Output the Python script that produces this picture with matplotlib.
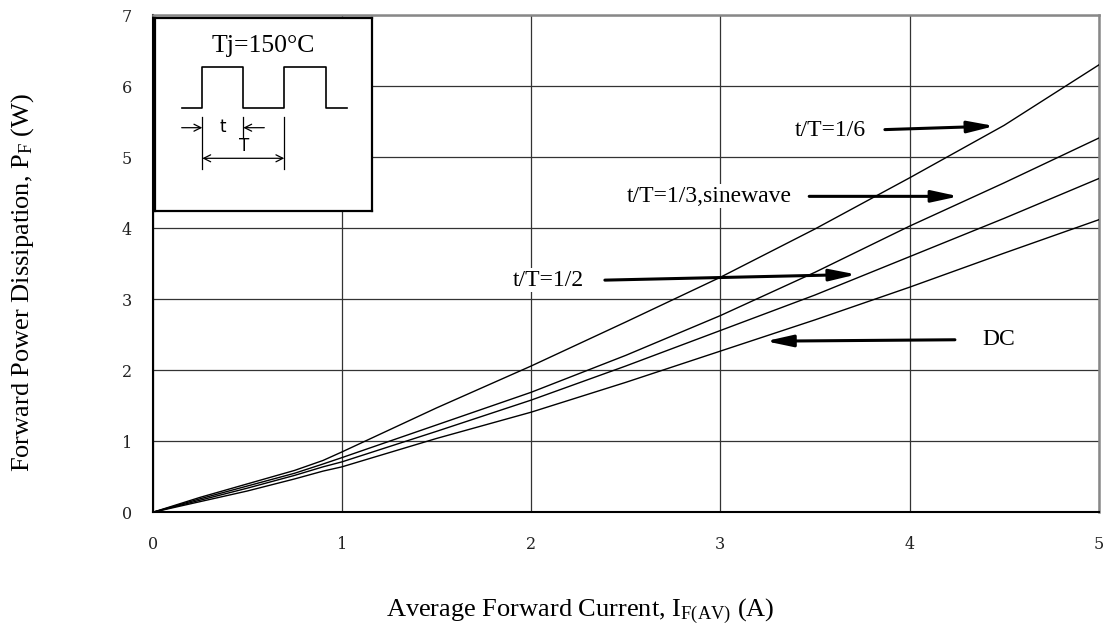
import numpy as np
import matplotlib
matplotlib.use('Agg')
import matplotlib.pyplot as plt

plt.rcParams['font.family'] = ['Liberation Serif', 'DejaVu Serif']
plt.rcParams['mathtext.fontset'] = 'custom'
plt.rcParams['mathtext.rm'] = 'Liberation Serif'
plt.rcParams['mathtext.it'] = 'Liberation Serif:italic'

# --- curve data ---
i_avg = [0, 0.25, 0.5, 0.75, 0.9, 1.0, 1.5, 2.0, 2.5, 3.0, 3.5, 4.0, 4.5, 5.0]
p_16 = [0, 0.21, 0.40, 0.59, 0.73, 0.85, 1.47, 2.06, 2.68, 3.31, 3.99, 4.71, 5.45, 6.30]
p_13 = [0, 0.19, 0.37, 0.55, 0.68, 0.77, 1.23, 1.69, 2.21, 2.77, 3.38, 4.03, 4.64, 5.27]
p_12 = [0, 0.17, 0.34, 0.52, 0.64, 0.71, 1.14, 1.58, 2.06, 2.56, 3.06, 3.60, 4.14, 4.70]
p_dc = [0, 0.15, 0.30, 0.47, 0.58, 0.64, 1.04, 1.41, 1.83, 2.27, 2.71, 3.17, 3.65, 4.12]

# label text, text position, arrow start, arrow end (data units)
labels = ['t/T=1/6', 't/T=1/3,sinewave', 't/T=1/2', 'DC']
label_xy = [(3.58, 5.38), (2.94, 4.45), (2.09, 3.27), (4.47, 2.44)]
arrow_from = [(3.87, 5.39), (3.47, 4.45), (2.39, 3.27), (4.24, 2.43)]
arrow_to = [(4.45, 5.44), (4.26, 4.45), (3.72, 3.35), (3.24, 2.41)]

W, H = 1110, 633
fig = plt.figure(figsize=(W/100, H/100), dpi=100)
ax = fig.add_axes([152.7/W, 1-512.3/H, (1098.7-152.7)/W, (512.3-15.3)/H])

for p in [p_16, p_13, p_12, p_dc]:
    ax.plot(i_avg, p, color='black', lw=1.0, zorder=3)

ax.set_xlim(0, 5)
ax.set_ylim(0, 7)
ax.set_xticks(range(6))
ax.set_yticks(range(8))
ax.grid(True, color='#333333', lw=0.9)
ax.tick_params(length=0, labelsize=11.5)
ax.tick_params(axis='y', pad=15)
ax.tick_params(axis='x', pad=17)
for lab in ax.get_xticklabels() + ax.get_yticklabels():
    lab.set_fontfamily('DejaVu Serif')
    lab.set_color('#222222')
for s in ['left', 'bottom']:
    ax.spines[s].set_linewidth(1.5)
    ax.spines[s].set_color('black')
for s in ['top', 'right']:
    ax.spines[s].set_linewidth(1.8)
    ax.spines[s].set_color('#888888')

for txt, xy, a0, a1 in zip(labels, label_xy, arrow_from, arrow_to):
    ax.text(xy[0], xy[1], txt, fontsize=17, ha='center', va='center', zorder=4,
            bbox=dict(facecolor='white', edgecolor='none', pad=1))
    ax.annotate('', xy=a1, xytext=a0,
                arrowprops=dict(arrowstyle='-|>,head_length=1.15,head_width=0.25',
                                lw=2.2, color='black', mutation_scale=14,
                                shrinkA=0, shrinkB=0), zorder=4)

fig.text(23/W, 1-283/H, 'Forward Power Dissipation, P$_\\mathrm{F}$ (W)',
         rotation=90, ha='center', va='center', fontsize=19)
fig.text(580/W, 1-611/H, 'Average Forward Current, I$_\\mathrm{F(AV)}$ (A)',
         ha='center', va='center', fontsize=19)

# --- inset schematic (pixel coordinates of the box) ---
x0, x1, y0, y1 = 155, 371.7, 18.3, 210.7
ax_in = fig.add_axes([x0/W, 1-y1/H, (x1-x0)/W, (y1-y0)/H])
ax_in.set_xlim(x0, x1)
ax_in.set_ylim(y1, y0)
ax_in.set_xticks([])
ax_in.set_yticks([])
ax_in.set_facecolor('white')
for s in ax_in.spines.values():
    s.set_linewidth(1.6)
    s.set_color('black')

wave_x = [181.7, 202.3, 202.3, 243.3, 243.3, 284.3, 284.3, 325.7, 325.7, 346.7]
wave_y = [107.7, 107.7, 66.7, 66.7, 107.7, 107.7, 66.7, 66.7, 107.7, 107.7]
ax_in.plot(wave_x, wave_y, color='black', lw=1.2)
ax_in.text(263, 46, 'Tj=150°C', fontsize=18.5, ha='center', va='center')

ax_in.plot([202.3, 202.3], [116.7, 169.3], color='black', lw=0.9)
ax_in.plot([243.3, 243.3], [116.7, 138], color='black', lw=0.9)
ax_in.plot([284.3, 284.3], [116.7, 169.3], color='black', lw=0.9)
thin = dict(arrowstyle='->,head_length=0.5,head_width=0.25', lw=0.9,
            color='black', shrinkA=0, shrinkB=0)
ax_in.annotate('', xy=(202.3, 127.7), xytext=(181.7, 127.7), arrowprops=thin)
ax_in.annotate('', xy=(243.3, 127.7), xytext=(264.3, 127.7), arrowprops=thin)
ax_in.annotate('', xy=(284.3, 158.3), xytext=(202.3, 158.3),
               arrowprops=dict(thin, arrowstyle='<->,head_length=0.5,head_width=0.25'))
ax_in.text(222.7, 127, 't', fontsize=12, family='DejaVu Sans', ha='center', va='center')
ax_in.text(244, 146, 'T', fontsize=12, family='DejaVu Sans', ha='center', va='center')

fig.savefig('out.png', dpi=100)
